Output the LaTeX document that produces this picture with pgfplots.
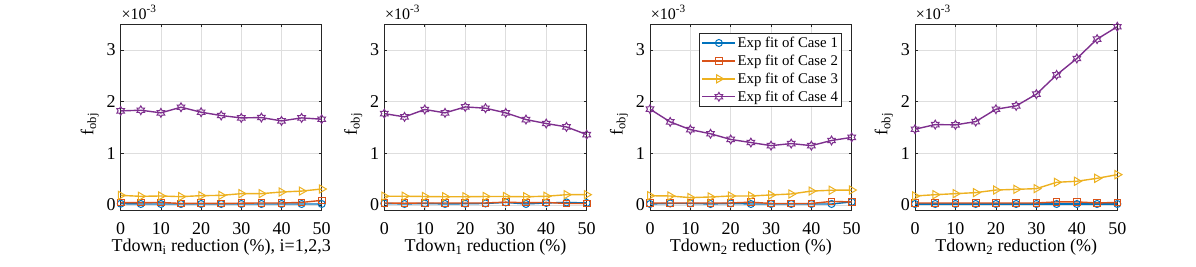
\documentclass[border=0pt]{standalone}
\usepackage{fontspec}
\setmainfont{Liberation Serif}
\usepackage{pgfplots}
\usepackage{pgfplotstable}
\pgfplotsset{compat=1.18}

\definecolor{m1}{rgb}{0,0.447,0.741}
\definecolor{m2}{rgb}{0.850,0.325,0.098}
\definecolor{m3}{rgb}{0.929,0.694,0.125}
\definecolor{m4}{rgb}{0.494,0.184,0.556}

\pgfdeclareplotmark{hexagram}{%
  \pgfpathmoveto{\pgfpointpolar{90}{\pgfplotmarksize}}%
  \pgfpathlineto{\pgfpointpolar{120}{0.577\pgfplotmarksize}}%
  \pgfpathlineto{\pgfpointpolar{150}{\pgfplotmarksize}}%
  \pgfpathlineto{\pgfpointpolar{180}{0.577\pgfplotmarksize}}%
  \pgfpathlineto{\pgfpointpolar{210}{\pgfplotmarksize}}%
  \pgfpathlineto{\pgfpointpolar{240}{0.577\pgfplotmarksize}}%
  \pgfpathlineto{\pgfpointpolar{270}{\pgfplotmarksize}}%
  \pgfpathlineto{\pgfpointpolar{300}{0.577\pgfplotmarksize}}%
  \pgfpathlineto{\pgfpointpolar{330}{\pgfplotmarksize}}%
  \pgfpathlineto{\pgfpointpolar{0}{0.577\pgfplotmarksize}}%
  \pgfpathlineto{\pgfpointpolar{30}{\pgfplotmarksize}}%
  \pgfpathlineto{\pgfpointpolar{60}{0.577\pgfplotmarksize}}%
  \pgfpathclose\pgfusepathqstroke}

\pgfplotstableread{
x c1 c2 c3 c4
0  0.025 0.045 0.187 1.823
5  0.02  0.045 0.168 1.836
10 0.02  0.05  0.175 1.785
15 0.02  0.03  0.162 1.894
20 0.02  0.035 0.181 1.797
25 0.02  0.03  0.187 1.733
30 0.02  0.035 0.22  1.687
35 0.02  0.04  0.22  1.694
40 0.02  0.04  0.252 1.629
45 0.02  0.05  0.27  1.687
50 0.02  0.09  0.31  1.662
}\tA
\pgfplotstableread{
x c1 c2 c3 c4
0  0.03  0.04  0.17  1.77
5  0.02  0.035 0.17  1.707
10 0.03  0.04  0.165 1.85
15 0.02  0.04  0.16  1.785
20 0.025 0.04  0.16  1.90
25 0.03  0.04  0.165 1.875
30 0.05  0.055 0.165 1.785
35 0.02  0.045 0.16  1.655
40 0.04  0.05  0.17  1.578
45 0.05  0.03  0.2   1.513
50 0.04  0.03  0.2   1.364
}\tB
\pgfplotstableread{
x c1 c2 c3 c4
0  0.02 0.04  0.18  1.857
5  0.03 0.04  0.175 1.61
10 0.03 0.04  0.143 1.46
15 0.02 0.04  0.156 1.38
20 0.03 0.04  0.175 1.27
25 0.02 0.055 0.175 1.21
30 0.02 0.03  0.195 1.15
35 0.02 0.03  0.214 1.19
40 0.02 0.03  0.27  1.15
45 0.02 0.07  0.286 1.25
50 0.06 0.06  0.29  1.31
}\tC
\pgfplotstableread{
x c1 c2 c3 c4
0  0.02 0.04 0.175 1.468
5  0.02 0.04 0.2   1.558
10 0.02 0.04 0.22  1.552
15 0.02 0.04 0.24  1.616
20 0.02 0.04 0.29  1.855
25 0.02 0.04 0.304 1.92
30 0.02 0.04 0.317 2.147
35 0.02 0.06 0.44  2.52
40 0.02 0.06 0.46  2.838
45 0.02 0.04 0.517 3.213
50 0.02 0.05 0.588 3.453
}\tD

\pgfplotsset{
  mstyle/.style={
    scale only axis, height=186.4pt,
    xmin=0, xmax=50, ymin=-0.11, ymax=3.5,
    xtick={0,10,20,30,40,50}, ytick={0,1,2,3},
    grid=major, grid style={color=black!13, line width=0.5pt},
    axis line style={black!85, line width=0.6pt},
    tick style={black!85, line width=0.6pt},
    tick align=inside, major tick length=3pt,
    clip=false,
    font=\fontsize{18}{20}\selectfont,
    /pgf/number format/assume math mode=true,
    xticklabel style={anchor=base, yshift=-23.6pt, inner sep=0pt, font=\fontsize{18}{20}\selectfont},
    yticklabel style={anchor=east, inner sep=0pt, xshift=-5pt, font=\fontsize{18}{20}\selectfont},
    ylabel={f\textsubscript{obj}},
    ylabel style={at={(axis description cs:-0.136,0.465)}, anchor=base, rotate=0},
    xlabel style={at={(axis description cs:0.5,0)}, anchor=base, yshift=-41pt},
    every axis plot/.append style={line width=1.4pt, mark size=3.5pt, mark options={solid, line width=1pt}},
    legend image code/.code={\draw[mark repeat=2,mark phase=2] plot coordinates {(0pt,0pt) (16.5pt,0pt) (33pt,0pt)};},
  },
  pc1/.style={color=m1, mark=o},
  pc2/.style={color=m2, mark=square, mark size=3.3pt},
  pc3/.style={color=m3, mark=triangle, mark size=4.7pt, mark options={rotate=-90, solid, line width=1pt}},
  pc4/.style={color=m4, mark=hexagram, mark size=4.4pt},
}

\newcommand{\expo}{\node[anchor=base west, inner sep=0pt, font=\fontsize{16}{18}\selectfont] at (axis description cs:0.003,1.027) {×10\textsuperscript{-3}};}

\begin{document}
\begin{tikzpicture}
\useasboundingbox (0,0) rectangle (1196pt,267pt);

\begin{axis}[mstyle, at={(120.7pt,56.3pt)}, anchor=south west, width=201pt,
  xlabel={Tdown\textsubscript{i} reduction (\%), i=1,2,3}]
\addplot[pc1] table[x=x,y=c1]{\tA};
\addplot[pc2] table[x=x,y=c2]{\tA};
\addplot[pc3] table[x=x,y=c3]{\tA};
\addplot[pc4] table[x=x,y=c4]{\tA};
\expo
\end{axis}

\begin{axis}[mstyle, at={(384.3pt,56.3pt)}, anchor=south west, width=202.4pt,
  xlabel={Tdown\textsubscript{1} reduction (\%)}]
\addplot[pc1] table[x=x,y=c1]{\tB};
\addplot[pc2] table[x=x,y=c2]{\tB};
\addplot[pc3] table[x=x,y=c3]{\tB};
\addplot[pc4] table[x=x,y=c4]{\tB};
\expo
\end{axis}

\begin{axis}[mstyle, at={(650pt,56.3pt)}, anchor=south west, width=201.7pt,
  xlabel={Tdown\textsubscript{2} reduction (\%)},
  legend style={at={(axis description cs:0.9504,0.952)}, anchor=north east,
    draw=black!85, line width=0.6pt, fill=white,
    font=\fontsize{14.8}{17}\selectfont, inner xsep=2pt, inner ysep=2pt,
    row sep=3pt, nodes={inner sep=1.5pt}},
  legend cell align=left]
\addplot[pc1] table[x=x,y=c1]{\tC};
\addlegendentry{Exp fit of Case 1}
\addplot[pc2] table[x=x,y=c2]{\tC};
\addlegendentry{Exp fit of Case 2}
\addplot[pc3] table[x=x,y=c3]{\tC};
\addlegendentry{Exp fit of Case 3}
\addplot[pc4] table[x=x,y=c4]{\tC};
\addlegendentry{Exp fit of Case 4}
\expo
\end{axis}

\begin{axis}[mstyle, at={(915pt,56.3pt)}, anchor=south west, width=202.3pt,
  xlabel={Tdown\textsubscript{2} reduction (\%)}]
\addplot[pc1] table[x=x,y=c1]{\tD};
\addplot[pc2] table[x=x,y=c2]{\tD};
\addplot[pc3] table[x=x,y=c3]{\tD};
\addplot[pc4] table[x=x,y=c4]{\tD};
\expo
\end{axis}
\end{tikzpicture}
\end{document}
